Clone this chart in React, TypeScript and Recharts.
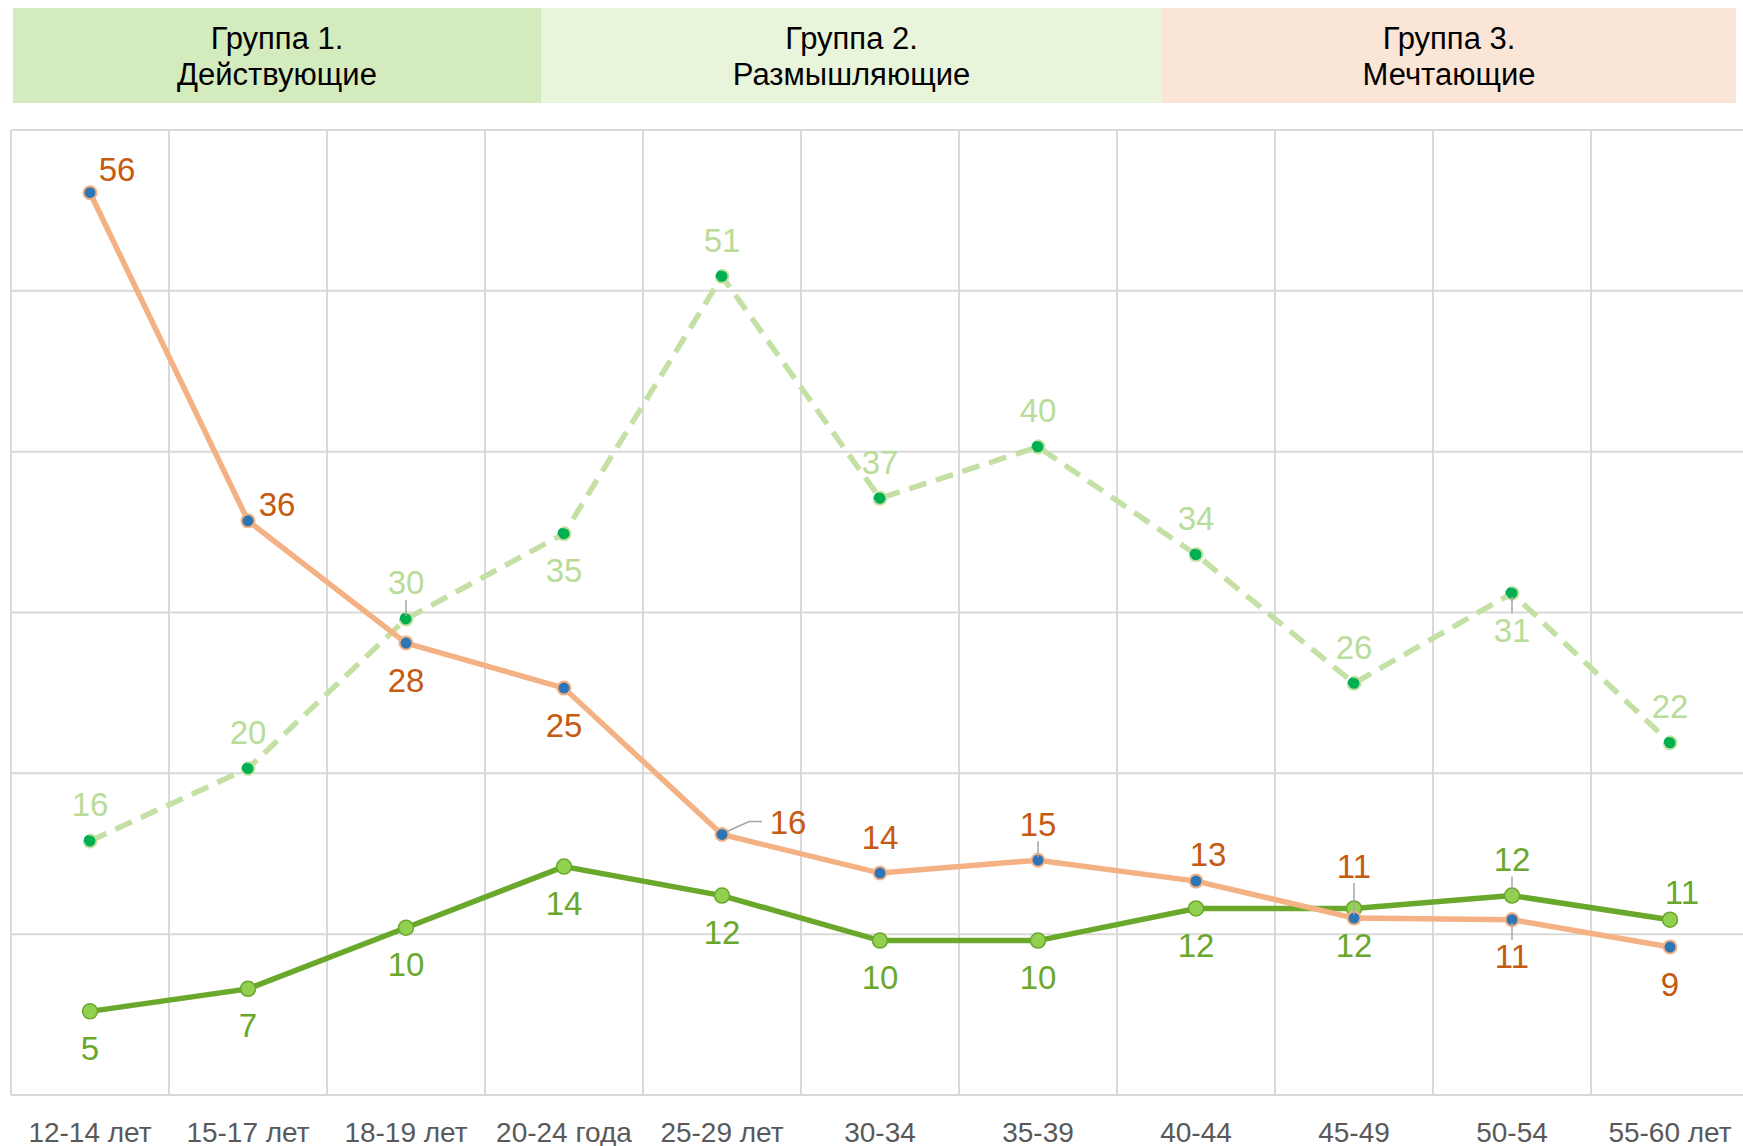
import React from 'react';
import { LineChart, Line, XAxis, YAxis, CartesianGrid, LabelList } from 'recharts';

// age bands on the x axis
const ageGroups = ['12-14 лет', '15-17 лет', '18-19 лет', '20-24 года', '25-29 лет', '30-34', '35-39', '40-44', '45-49', '50-54', '55-60 лет'];

// three series (labels show rounded values)
const orangeValues = [56.1, 35.7, 28.1, 25.3, 16.2, 13.8, 14.6, 13.3, 11.0, 10.9, 9.2];
const dashedValues = [15.8, 20.3, 29.6, 34.9, 50.9, 37.1, 40.3, 33.6, 25.6, 31.2, 21.9];
const greenValues = [5.2, 6.6, 10.4, 14.2, 12.4, 9.6, 9.6, 11.6, 11.6, 12.4, 10.9];

const yTicks = [0, 10, 20, 30, 40, 50, 60];

const groupTitles = ['Группа 1.', 'Группа 2.', 'Группа 3.'];
const groupNames = ['Действующие', 'Размышляющие', 'Мечтающие'];

// label placement per point, and points that get a leader line
const orangePlaces = ['TR', 'R', 'B', 'B', 'RR', 'T', 'T', 'TR2', 'TT', 'B', 'B'];
const dashedPlaces = ['T', 'T', 'T', 'B', 'T', 'T', 'T', 'T', 'T', 'B', 'T'];
const greenPlaces = ['B', 'B', 'B', 'B', 'B', 'B', 'B', 'B', 'B', 'T', 'TR2'];
const orangeLeaders = [4, 6, 8, 9];
const dashedLeaders = [2, 9];
const greenLeaders = [9];

const data = ageGroups.map((age, i) => ({
  age,
  orange: orangeValues[i],
  dashed: dashedValues[i],
  green: greenValues[i],
}));

const offsets: Record<string, [number, number]> = {
  T: [0, -36],
  B: [0, 37],
  TT: [0, -52],
  R: [29, -16],
  TR: [27, -23],
  TR2: [12, -27],
  RR: [66, -12],
};

const FONT = '"Liberation Sans", Arial, sans-serif';

const makeLabel = (color: string, places: string[], leaders: number[]) => (props: any) => {
  const { x, y, value, index } = props;
  const [dx, dy] = offsets[places[index]] || [0, -36];
  let leader: React.ReactNode = null;
  if (leaders.includes(index)) {
    if (places[index] === 'RR') {
      leader = <polyline points={`${x + 5},${y - 3} ${x + 27},${y - 13} ${x + 40},${y - 13}`} fill="none" stroke="#A6A6A6" strokeWidth={1.5} />;
    } else {
      const s = dy < 0 ? -1 : 1;
      leader = <line x1={x + dx * 0.3} y1={y + s * 3} x2={x + dx * 0.6} y2={y + dy - s * 17} stroke="#A6A6A6" strokeWidth={1.5} />;
    }
  }
  return (
    <g>
      {leader}
      <text x={x + dx} y={y + dy} fill={color} fontSize={33} fontFamily={FONT} textAnchor="middle" dominantBaseline="central">
        {Math.round(value)}
      </text>
    </g>
  );
};

const AgeTick = ({ x, y, payload }: any) => (
  <text x={x} y={y + 35} fill="#595959" fontSize={28} fontFamily={FONT} textAnchor="middle" dominantBaseline="central">
    {payload.value}
  </text>
);

const PLOT_LEFT = 11;
const BAND = 158;
const gridX = Array.from({ length: ageGroups.length + 1 }, (_, i) => PLOT_LEFT + i * BAND);

const headerBands = [
  { left: 13, width: 528, bg: '#D4EBBE' },
  { left: 541, width: 621, bg: '#E9F5DB' },
  { left: 1162, width: 574, bg: '#FBE5D6' },
];

export default function App() {
  return (
    <div style={{ position: 'absolute', left: 0, top: 0, width: 1743, height: 1146, overflow: 'hidden', background: '#fff' }}>
      {headerBands.map((b, i) => (
        <div
          key={i}
          style={{
            position: 'absolute', left: b.left, top: 8, width: b.width, height: 95, background: b.bg,
            display: 'flex', flexDirection: 'column', justifyContent: 'center', alignItems: 'center',
            fontFamily: FONT, fontSize: 31, lineHeight: '36px', color: '#000', paddingTop: 2, boxSizing: 'border-box',
          }}
        >
          <div>{groupTitles[i]}</div>
          <div>{groupNames[i]}</div>
        </div>
      ))}
      <div style={{ position: 'absolute', left: 0, top: 0 }}>
        <LineChart width={1751} height={1146} data={data} margin={{ top: 130, right: 2, bottom: 21, left: PLOT_LEFT }}>
          <CartesianGrid stroke="#D9D9D9" strokeWidth={2} verticalPoints={gridX} />
          <XAxis dataKey="age" scale="band" height={30} tickLine={false} tickSize={0} axisLine={{ stroke: '#D9D9D9', strokeWidth: 2 }} tick={<AgeTick />} interval={0} />
          <YAxis hide domain={[0, 60]} ticks={yTicks} />
          <Line
            dataKey="dashed" stroke="#C5E0A5" strokeWidth={5.5} strokeDasharray="18 10" isAnimationActive={false}
            dot={{ r: 6.5, fill: '#00B050', stroke: '#C5E0A5', strokeWidth: 2 }}
          >
            <LabelList dataKey="dashed" content={makeLabel('#B9DC98', dashedPlaces, dashedLeaders)} />
          </Line>
          <Line
            dataKey="green" stroke="#6AA82C" strokeWidth={5.5} isAnimationActive={false}
            dot={{ r: 7.5, fill: '#92D050', stroke: '#6AA82C', strokeWidth: 1.5 }}
          >
            <LabelList dataKey="green" content={makeLabel('#6AA82C', greenPlaces, greenLeaders)} />
          </Line>
          <Line
            dataKey="orange" stroke="#F4B183" strokeWidth={5.5} isAnimationActive={false}
            dot={{ r: 6.5, fill: '#2E75B6', stroke: '#F4B183', strokeWidth: 2 }}
          >
            <LabelList dataKey="orange" content={makeLabel('#C55A11', orangePlaces, orangeLeaders)} />
          </Line>
        </LineChart>
      </div>
    </div>
  );
}
